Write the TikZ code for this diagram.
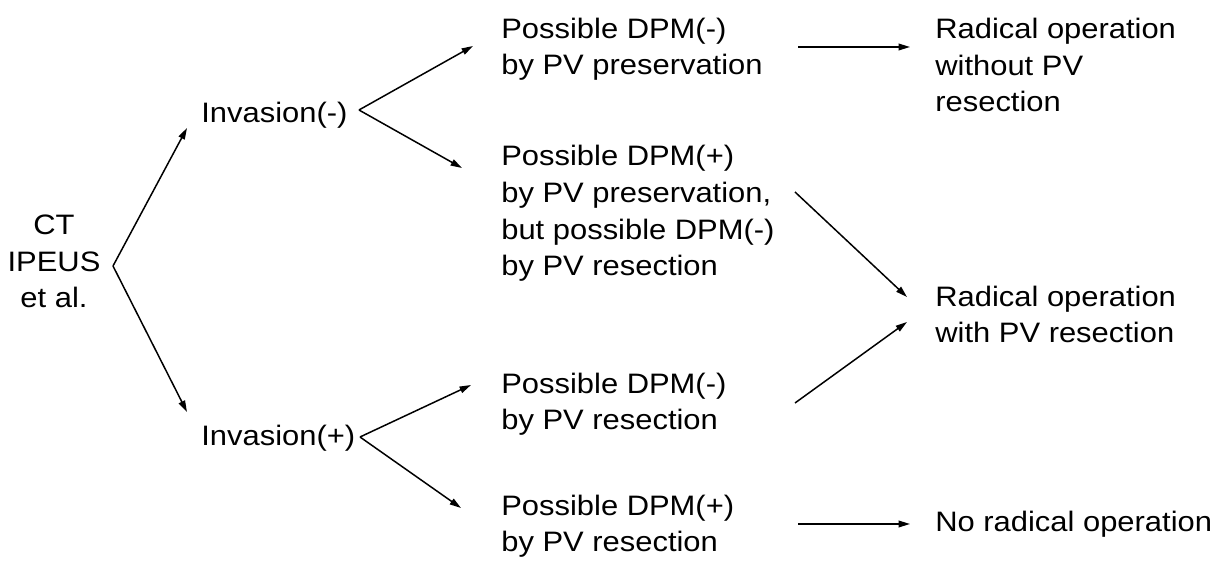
\documentclass[tikz,border=0pt]{standalone}
\usepackage{fontspec}
\setmainfont{Liberation Sans}[FakeStretch=1.10]
\usetikzlibrary{arrows.meta}
\usetikzlibrary{calc}

\begin{document}
\begin{tikzpicture}[x=0.02cm, y=-0.02cm, every node/.style={inner sep=0pt, font=\fontsize{16}{21}\selectfont}, lbl/.style={anchor=base west, align=left}, arr/.style={-{Triangle[length=6.5pt, width=3.8pt]}, line width=0.85pt}]
        % Fix the frame of the picture
        \useasboundingbox (0,0) rectangle (1228,573);

        % Define the left edges of the text columns
        \def\colA{201}
        \def\colB{501}
        \def\colC{935}

        % Draw the examination node (base = last line)
        \node[anchor=base, align=center] (src) at (54,308) {CT\\IPEUS\\et al.};

        % Draw the invasion nodes
        \node[lbl] (inv1) at (\colA,123) {Invasion(-)};
        \node[lbl] (inv2) at (\colA,446) {Invasion(+)};

        % Draw the DPM nodes
        \node[lbl] (dpm1) at (\colB,75) {Possible DPM(-)\\by PV preservation};
        \node[lbl] (dpm2) at (\colB,276) {Possible DPM(+)\\by PV preservation,\\but possible DPM(-)\\by PV resection};
        \node[lbl] (dpm3) at (\colB,430) {Possible DPM(-)\\by PV resection};
        \node[lbl] (dpm4) at (\colB,552) {Possible DPM(+)\\by PV resection};

        % Draw the operation nodes
        \node[lbl] (op1) at (\colC,112) {Radical operation\\without PV\\resection};
        \node[lbl] (op2) at (\colC,343) {Radical operation\\with PV resection};
        \node[lbl] (op3) at (\colC,532) {No radical operation};

        \draw[arr] ($(src.base)+(59,-42)$) -- ($(inv1.base west)+(-14,5)$);
        \draw[arr] ($(src.base)+(59,-42)$) -- ($(inv2.base west)+(-14,-34)$);

        \draw[arr] ($(inv1.base west)+(158,-13)$) -- ($(dpm1.base west)+(-28,-29)$);
        \draw[arr] ($(inv1.base west)+(158,-13)$) -- ($(dpm2.base west)+(-39,-108)$);
        \draw[arr] ($(inv2.base west)+(159,-9)$) -- ($(dpm3.base west)+(-30,-45)$);
        \draw[arr] ($(inv2.base west)+(159,-9)$) -- ($(dpm4.base west)+(-40,-44)$);

        \draw[arr] ($(dpm1.base west)+(297,-28)$) -- ($(op1.base west)+(-25,-65)$);
        \draw[arr] ($(dpm2.base west)+(294,-84)$) -- ($(op2.base west)+(-28,-46)$);
        \draw[arr] ($(dpm3.base west)+(294,-27)$) -- ($(op2.base west)+(-28,-21)$);
        \draw[arr] ($(dpm4.base west)+(297,-28)$) -- ($(op3.base west)+(-25,-8)$);
      \end{tikzpicture}
\end{document}
